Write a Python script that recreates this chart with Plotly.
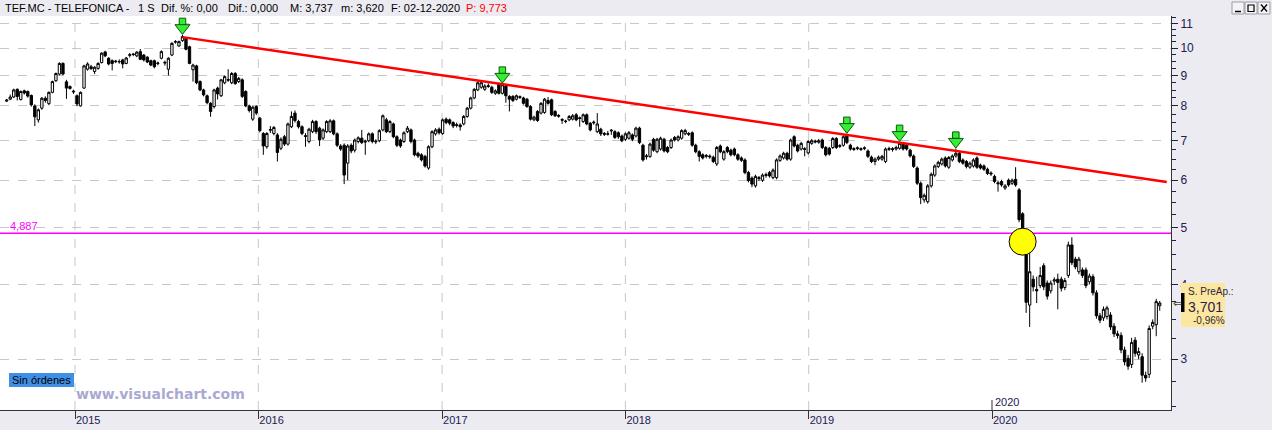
import math
import pandas as pd
import plotly.graph_objects as go

# ---------------- data (weekly candles) ----------------
open_ = [8.15, 8.21, 8.28, 8.53, 8.20, 8.48, 8.46, 8.33, 8.00, 7.58,
         7.93, 8.24, 8.07, 8.43, 8.82, 9.05, 9.43, 8.78, 8.62, 8.47,
         8.32, 8.00, 8.57, 9.22, 9.31, 9.14, 9.25, 9.46, 9.86, 9.62,
         9.53, 9.49, 9.50, 9.56, 9.43, 9.73, 9.78, 9.71, 9.87, 9.74,
         9.66, 9.53, 9.53, 9.42, 9.62, 9.47, 9.22, 9.74, 10.24, 10.09,
         10.30, 10.39, 10.06, 9.20, 9.34, 8.79, 8.51, 8.32, 8.08, 7.98,
         8.57, 8.32, 8.75, 8.86, 8.75, 9.07, 8.79, 8.85, 8.46, 8.00,
         7.60, 7.98, 7.63, 7.19, 6.83, 7.28, 7.19, 7.15, 6.79, 7.10,
         6.90, 7.38, 7.78, 7.53, 7.38, 7.13, 6.97, 7.24, 7.53, 7.34,
         7.06, 7.24, 7.24, 7.55, 7.18, 6.85, 6.87, 6.41, 6.87, 6.74,
         6.97, 7.06, 6.98, 6.99, 7.18, 6.96, 6.99, 7.29, 7.58, 7.24,
         7.46, 7.10, 7.01, 6.97, 7.24, 7.29, 7.01, 6.66, 6.62, 6.58,
         6.29, 6.83, 7.18, 7.31, 7.19, 7.60, 7.58, 7.50, 7.44, 7.43,
         7.46, 7.68, 7.93, 8.25, 8.51, 8.60, 8.53, 8.65, 8.60, 8.40,
         8.71, 8.40, 8.64, 8.30, 8.30, 8.21, 8.29, 8.25, 8.21, 7.98,
         7.58, 7.83, 7.78, 7.80, 8.17, 8.19, 7.83, 7.71, 7.59, 7.53,
         7.58, 7.60, 7.73, 7.64, 7.53, 7.73, 7.48, 7.49, 7.24, 7.31,
         7.19, 7.17, 7.26, 7.24, 7.21, 7.12, 7.03, 7.06, 7.15, 7.12,
         7.34, 6.87, 6.57, 6.58, 7.03, 6.70, 6.77, 7.03, 6.81, 6.81,
         7.08, 7.01, 7.06, 7.18, 7.19, 7.21, 6.87, 6.70, 6.62, 6.58,
         6.59, 6.56, 6.39, 6.85, 6.51, 6.81, 6.74, 6.77, 6.62, 6.54,
         6.49, 6.18, 6.05, 5.87, 6.06, 6.00, 6.11, 6.18, 6.06, 6.06,
         6.48, 6.54, 6.66, 6.51, 7.10, 6.87, 6.77, 6.78, 6.67, 6.92,
         6.98, 6.95, 7.01, 6.81, 6.79, 6.81, 7.05, 6.84, 6.87, 7.12,
         6.87, 6.78, 6.78, 6.78, 6.78, 6.72, 6.56, 6.45, 6.51, 6.51,
         6.45, 6.76, 6.78, 6.77, 6.79, 6.92, 6.87, 6.74, 6.59, 6.29,
         5.93, 5.56, 5.52, 5.87, 6.12, 6.33, 6.39, 6.54, 6.31, 6.49,
         6.59, 6.66, 6.49, 6.45, 6.31, 6.34, 6.54, 6.36, 6.34, 6.26,
         6.17, 6.09, 5.94, 5.97, 5.82, 6.00, 5.93, 6.02, 5.78, 5.27,
         4.60, 3.70, 4.09, 3.93, 3.99, 4.31, 4.03, 3.91, 4.06, 4.09,
         4.09, 3.96, 4.15, 4.67, 4.42, 4.21, 4.24, 4.24, 4.05, 4.13,
         3.88, 3.55, 3.52, 3.54, 3.56, 3.41, 3.31, 3.29, 3.11, 3.01,
         2.94, 3.23, 3.05, 3.03, 2.82, 2.83, 3.41, 3.43, 3.69]
high = [8.22, 8.36, 8.55, 8.56, 8.49, 8.52, 8.49, 8.36, 8.05, 7.92,
        8.28, 8.30, 8.46, 8.82, 9.10, 9.47, 9.47, 8.85, 8.66, 8.52,
        8.36, 8.46, 9.38, 9.47, 9.38, 9.33, 9.47, 9.85, 9.90, 9.66,
        9.58, 9.56, 9.58, 9.60, 9.67, 9.82, 9.82, 9.89, 9.97, 9.78,
        9.70, 9.57, 9.57, 9.50, 9.92, 9.53, 9.66, 10.24, 10.32, 10.30,
        10.53, 10.45, 10.10, 9.42, 9.38, 8.83, 8.55, 8.36, 8.12, 8.55,
        8.62, 8.88, 9.00, 9.22, 9.12, 9.12, 8.95, 8.90, 8.50, 8.04,
        8.00, 8.02, 7.67, 7.23, 7.23, 7.40, 7.40, 7.20, 7.08, 7.15,
        7.50, 7.83, 7.86, 7.58, 7.42, 7.20, 7.35, 7.58, 7.57, 7.38,
        7.33, 7.57, 7.60, 7.59, 7.22, 6.90, 6.92, 6.90, 6.92, 7.05,
        7.11, 7.29, 7.02, 7.22, 7.22, 7.03, 7.31, 7.74, 7.64, 7.57,
        7.50, 7.14, 7.05, 7.25, 7.40, 7.33, 7.05, 6.70, 6.66, 6.62,
        6.87, 7.28, 7.34, 7.36, 7.62, 7.65, 7.62, 7.54, 7.50, 7.48,
        7.72, 7.97, 8.29, 8.57, 8.79, 8.80, 8.70, 8.73, 8.65, 8.53,
        8.75, 8.72, 8.70, 8.34, 8.34, 8.36, 8.33, 8.29, 8.25, 8.02,
        7.70, 7.87, 8.12, 8.25, 8.28, 8.23, 7.87, 7.75, 7.63, 7.58,
        7.72, 7.75, 7.78, 7.68, 7.77, 7.77, 7.52, 7.56, 7.78, 7.35,
        7.23, 7.26, 7.31, 7.28, 7.25, 7.16, 7.22, 7.26, 7.19, 7.38,
        7.38, 6.91, 6.64, 6.94, 7.07, 7.07, 7.10, 7.07, 6.85, 7.05,
        7.12, 7.14, 7.31, 7.32, 7.23, 7.25, 6.91, 6.74, 6.66, 6.64,
        6.63, 6.60, 6.85, 6.89, 6.74, 6.85, 6.78, 6.81, 6.66, 6.58,
        6.53, 6.22, 6.09, 6.13, 6.10, 6.16, 6.18, 6.22, 6.28, 6.53,
        6.63, 6.70, 6.70, 7.05, 7.14, 6.91, 6.96, 6.82, 7.01, 7.04,
        7.02, 7.04, 7.05, 6.85, 6.83, 7.09, 7.09, 6.90, 7.14, 7.18,
        6.91, 6.82, 6.84, 6.81, 6.84, 6.76, 6.60, 6.55, 6.60, 6.62,
        6.81, 6.83, 6.82, 6.86, 6.96, 6.96, 6.91, 6.78, 6.63, 6.33,
        5.97, 5.70, 5.91, 6.18, 6.38, 6.47, 6.55, 6.58, 6.59, 6.63,
        6.78, 6.70, 6.53, 6.49, 6.45, 6.53, 6.58, 6.40, 6.38, 6.30,
        6.21, 6.13, 5.98, 6.01, 5.91, 6.04, 6.04, 6.31, 5.82, 5.30,
        4.75, 4.58, 4.15, 4.13, 4.29, 4.35, 4.07, 4.07, 4.12, 4.18,
        4.13, 4.11, 4.73, 4.81, 4.46, 4.46, 4.28, 4.28, 4.18, 4.17,
        3.92, 3.59, 3.68, 3.69, 3.60, 3.45, 3.35, 3.33, 3.15, 3.05,
        3.26, 3.27, 3.14, 3.07, 2.86, 3.42, 3.50, 3.79, 3.76]
low = [8.12, 8.18, 8.25, 8.17, 8.17, 8.36, 8.26, 7.98, 7.40, 7.50,
       7.88, 8.10, 8.02, 8.40, 8.78, 9.00, 9.00, 8.22, 8.52, 8.38,
       7.99, 7.98, 8.55, 9.17, 9.20, 9.05, 9.20, 9.43, 9.66, 9.36,
       9.18, 9.44, 9.42, 9.25, 9.40, 9.65, 9.70, 9.66, 9.55, 9.50,
       9.44, 9.33, 9.25, 9.36, 9.58, 9.35, 9.00, 9.70, 10.18, 10.05,
       10.25, 9.92, 9.40, 8.79, 8.70, 8.47, 8.30, 8.05, 7.67, 7.92,
       8.20, 8.28, 8.70, 8.78, 8.70, 8.68, 8.74, 8.25, 7.96, 7.80,
       7.55, 7.72, 7.22, 6.62, 6.78, 7.20, 7.14, 6.45, 6.74, 6.85,
       6.86, 7.34, 7.50, 7.33, 7.14, 6.83, 6.92, 7.20, 7.18, 6.85,
       7.00, 7.20, 7.20, 7.14, 6.82, 6.72, 5.91, 6.00, 6.66, 6.68,
       6.92, 6.90, 6.62, 6.95, 6.92, 6.90, 6.95, 7.25, 7.20, 7.20,
       7.06, 6.82, 6.80, 6.93, 7.20, 6.92, 6.58, 6.54, 6.45, 6.30,
       6.25, 6.79, 7.13, 7.16, 7.15, 7.45, 7.42, 7.34, 7.36, 7.27,
       7.42, 7.64, 7.89, 8.21, 8.47, 8.55, 8.48, 8.58, 8.38, 8.35,
       8.36, 8.36, 8.10, 7.83, 8.12, 8.17, 8.22, 8.04, 7.94, 7.56,
       7.54, 7.52, 7.74, 7.76, 8.04, 7.69, 7.66, 7.64, 7.46, 7.48,
       7.54, 7.56, 7.54, 7.38, 7.49, 7.42, 7.25, 7.44, 7.20, 7.12,
       7.12, 7.13, 7.15, 7.04, 7.04, 6.95, 6.98, 7.02, 6.98, 7.08,
       6.90, 6.45, 6.50, 6.54, 6.70, 6.66, 6.73, 6.68, 6.66, 6.77,
       6.97, 6.97, 7.02, 7.14, 7.12, 6.83, 6.66, 6.45, 6.50, 6.53,
       6.52, 6.41, 6.34, 6.66, 6.47, 6.66, 6.58, 6.58, 6.47, 6.44,
       6.14, 5.95, 5.84, 5.83, 5.98, 5.96, 6.06, 6.06, 6.02, 6.02,
       6.44, 6.50, 6.47, 6.47, 6.81, 6.68, 6.73, 6.58, 6.63, 6.88,
       6.92, 6.91, 6.77, 6.58, 6.60, 6.77, 6.77, 6.80, 6.83, 6.90,
       6.73, 6.72, 6.74, 6.72, 6.74, 6.54, 6.41, 6.36, 6.47, 6.47,
       6.41, 6.72, 6.70, 6.73, 6.75, 6.73, 6.73, 6.55, 6.29, 5.89,
       5.47, 5.50, 5.48, 5.83, 6.08, 6.29, 6.35, 6.30, 6.27, 6.45,
       6.55, 6.41, 6.37, 6.28, 6.27, 6.30, 6.27, 6.25, 6.22, 6.12,
       6.10, 5.93, 5.74, 5.85, 5.78, 5.85, 5.89, 5.85, 5.10, 4.80,
       3.59, 3.40, 3.90, 3.73, 3.95, 3.92, 3.78, 3.87, 4.00, 3.64,
       3.90, 3.92, 4.11, 4.32, 4.25, 4.17, 4.11, 3.95, 4.01, 3.84,
       3.51, 3.45, 3.48, 3.50, 3.36, 3.27, 3.25, 3.07, 2.93, 2.88,
       2.90, 3.03, 3.00, 2.74, 2.75, 2.79, 3.37, 3.28, 3.62]
close = [8.18, 8.28, 8.51, 8.30, 8.46, 8.41, 8.31, 8.03, 7.67, 7.88,
         8.24, 8.17, 8.43, 8.79, 9.07, 9.43, 9.05, 8.57, 8.56, 8.45,
         8.06, 8.43, 9.34, 9.41, 9.24, 9.29, 9.43, 9.81, 9.71, 9.41,
         9.43, 9.51, 9.49, 9.41, 9.63, 9.75, 9.76, 9.85, 9.58, 9.56,
         9.48, 9.37, 9.31, 9.44, 9.87, 9.45, 9.62, 10.19, 10.26, 10.26,
         10.46, 9.96, 9.43, 9.37, 8.75, 8.51, 8.35, 8.10, 7.83, 8.51,
         8.38, 8.85, 8.96, 8.84, 9.07, 8.72, 8.90, 8.30, 8.00, 7.86,
         7.96, 7.78, 7.27, 6.85, 7.19, 7.30, 7.36, 6.68, 7.03, 6.90,
         7.46, 7.68, 7.56, 7.38, 7.19, 7.11, 7.31, 7.53, 7.24, 7.01,
         7.29, 7.53, 7.55, 7.18, 6.87, 6.77, 6.12, 6.85, 6.72, 7.01,
         7.07, 6.94, 6.96, 7.18, 6.97, 6.98, 7.27, 7.70, 7.24, 7.53,
         7.10, 6.87, 6.85, 7.21, 7.34, 6.97, 6.62, 6.59, 6.49, 6.34,
         6.83, 7.24, 7.29, 7.21, 7.58, 7.50, 7.48, 7.40, 7.42, 7.38,
         7.68, 7.93, 8.25, 8.53, 8.75, 8.75, 8.64, 8.63, 8.43, 8.48,
         8.40, 8.68, 8.32, 8.21, 8.17, 8.32, 8.27, 8.08, 7.98, 7.60,
         7.66, 7.56, 8.08, 8.21, 8.08, 7.73, 7.70, 7.69, 7.57, 7.54,
         7.68, 7.70, 7.58, 7.62, 7.73, 7.46, 7.29, 7.51, 7.46, 7.18,
         7.17, 7.18, 7.28, 7.08, 7.10, 6.99, 7.18, 7.21, 7.03, 7.34,
         6.94, 6.49, 6.59, 6.90, 6.74, 7.03, 7.06, 6.72, 6.70, 7.01,
         7.01, 7.10, 7.27, 7.27, 7.17, 6.87, 6.70, 6.58, 6.54, 6.60,
         6.57, 6.45, 6.81, 6.70, 6.70, 6.70, 6.62, 6.62, 6.51, 6.48,
         6.18, 5.99, 5.91, 6.09, 6.04, 6.12, 6.13, 6.10, 6.24, 6.49,
         6.59, 6.66, 6.51, 7.01, 6.85, 6.72, 6.92, 6.76, 6.97, 6.99,
         6.96, 6.99, 6.81, 6.62, 6.64, 7.05, 6.81, 6.86, 7.10, 6.94,
         6.77, 6.76, 6.80, 6.76, 6.80, 6.58, 6.45, 6.51, 6.56, 6.58,
         6.77, 6.78, 6.76, 6.81, 6.92, 6.77, 6.77, 6.59, 6.33, 5.93,
         5.61, 5.66, 5.87, 6.14, 6.34, 6.43, 6.51, 6.34, 6.55, 6.59,
         6.66, 6.45, 6.41, 6.33, 6.41, 6.49, 6.31, 6.29, 6.26, 6.16,
         6.15, 5.97, 5.92, 5.89, 5.87, 5.89, 6.00, 5.89, 5.15, 4.89,
         3.74, 4.21, 3.97, 3.91, 4.15, 3.97, 3.83, 4.03, 4.08, 4.04,
         3.95, 4.07, 4.67, 4.36, 4.29, 4.42, 4.15, 3.99, 4.14, 3.88,
         3.55, 3.49, 3.64, 3.66, 3.40, 3.31, 3.29, 3.11, 2.97, 2.92,
         3.20, 3.07, 3.09, 2.82, 2.79, 3.38, 3.46, 3.75, 3.73]

last_date = "2020-11-30"
year_ticks = ["2015-01-01", "2016-01-01", "2017-01-01", "2018-01-01", "2019-01-01", "2020-01-01"]
year_labels = ["2015", "2016", "2017", "2018", "2019", "2020"]
y_ticks = [3, 4, 5, 6, 7, 8, 9, 10, 11]
y_tick_labels = ["3", "4", "5", "6", "7", "8", "9", "10", "11"]
trend_dates = ["2015-08-03", "2020-12-14"]
trend_values = [10.44, 5.96]
level_value = 4.887
level_label = "4,887"
signal_idx = [50, 141, 239, 254, 270]
circle_idx = 289
circle_value = 4.73
header_parts = ["TEF.MC - TELEFONICA -", "1 S", "Dif. %: 0,00", "Dif.: 0,000",
                "M: 3,737", "m: 3,620", "F: 02-12-2020"]
header_price = "P: 9,773"
last_price = "3,701"
last_change = "-0,96%"

# ---------------- geometry / styling ----------------
W, H = 1272, 430
PL, PR, PT, PB = 0, 1171, 16, 410          # plot area in pixels
y_bot, y_top = 2.465, 11.33
x_range = ["2014-08-04 15:43", "2020-12-22 10:34"]
k = math.log(y_top / y_bot) / (PB - PT)    # ln-units per pixel


def px(x):
    return (x - PL) / (PR - PL)


def py(y):
    return (PB - y) / (PB - PT)


dates = pd.date_range(end=last_date, periods=len(close), freq="7D")
minor_vals = [v / 4 for v in range(10, 46) if v % 4]

AXC = "#1c2050"
GRID = "#c6c6cc"
FONT = "Liberation Sans"

fig = go.Figure()

# horizontal level
fig.add_trace(go.Scatter(x=x_range, y=[level_value, level_value], mode="lines",
                         line=dict(color="#ff00ff", width=1.5), hoverinfo="skip"))

# yellow circle
fig.add_trace(go.Scatter(x=[dates[circle_idx]], y=[circle_value], mode="markers",
                         marker=dict(symbol="circle", size=27, color="#ffff00",
                                     line=dict(color="#000000", width=1)),
                         hoverinfo="skip"))

# candles
fig.add_trace(go.Candlestick(
    x=dates, open=open_, high=high, low=low, close=close,
    increasing=dict(line=dict(color="#000000", width=1), fillcolor="#ffffff"),
    decreasing=dict(line=dict(color="#000000", width=1), fillcolor="#000000"),
    whiskerwidth=0, hoverinfo="skip"))

# trend line
fig.add_trace(go.Scatter(x=trend_dates, y=trend_values, mode="lines",
                         line=dict(color="#ff0000", width=2.5), hoverinfo="skip"))

# green signal arrows
sig_x = [dates[i] for i in signal_idx]
tips = [high[i] * math.exp(1 * k) for i in signal_idx]
fig.add_trace(go.Scatter(x=sig_x, y=[t * math.exp(12.5 * k) for t in tips], mode="markers",
                         marker=dict(symbol="square", size=6.5, color="#33ee33",
                                     line=dict(color="#0a5a0a", width=1)),
                         hoverinfo="skip"))
fig.add_trace(go.Scatter(x=sig_x, y=[t * math.exp(6 * k) for t in tips], mode="markers",
                         marker=dict(symbol="triangle-down", size=13, color="#33ee33",
                                     line=dict(color="#0a5a0a", width=1)),
                         hoverinfo="skip"))

shapes = []
# vertical dashed year gridlines (none at 2020)
for d in year_ticks[:-1]:
    shapes.append(dict(type="line", xref="x", yref="paper", x0=d, x1=d, y0=0, y1=1,
                       line=dict(color=GRID, width=1, dash="dash"), layer="below"))
# 2020 marker above the axis
shapes.append(dict(type="line", xref="x", yref="paper", x0=year_ticks[-1], x1=year_ticks[-1],
                   y0=py(410), y1=py(400), line=dict(color="#333333", width=1)))
# "Sin órdenes" box
shapes.append(dict(type="rect", xref="paper", yref="paper", x0=px(9), x1=px(74),
                   y0=py(387), y1=py(373), fillcolor="#3f8fe6", line=dict(width=0)))
# price tag
shapes.append(dict(type="rect", xref="paper", yref="paper", x0=px(1181), x1=px(1225),
                   y0=py(327), y1=py(283), fillcolor="#fde6a0", line=dict(width=0), layer="above"))
shapes.append(dict(type="rect", xref="paper", yref="paper", x0=px(1181), x1=px(1184.5),
                   y0=py(312), y1=py(293), fillcolor="#000000", line=dict(width=0), layer="above"))
# window buttons
for x0 in (1232, 1245, 1258):
    shapes.append(dict(type="rect", xref="paper", yref="paper", x0=px(x0), x1=px(x0 + 12),
                       y0=py(14), y1=py(2), fillcolor="#f4f4f6",
                       line=dict(color="#9a9aa6", width=1), layer="above"))
shapes.append(dict(type="line", xref="paper", yref="paper", x0=px(1235), x1=px(1241),
                   y0=py(11.5), y1=py(11.5), line=dict(color="#000000", width=1.5), layer="above"))
shapes.append(dict(type="rect", xref="paper", yref="paper", x0=px(1248), x1=px(1254),
                   y0=py(11.5), y1=py(5), line=dict(color="#000000", width=1.2), layer="above"))
shapes.append(dict(type="line", xref="paper", yref="paper", x0=px(1261), x1=px(1267),
                   y0=py(11.5), y1=py(4.5), line=dict(color="#000000", width=1.3), layer="above"))
shapes.append(dict(type="line", xref="paper", yref="paper", x0=px(1261), x1=px(1267),
                   y0=py(4.5), y1=py(11.5), line=dict(color="#000000", width=1.3), layer="above"))

ann = []
# header
header_x = [3, 136, 159, 226, 288, 339, 389]
for t, x in zip(header_parts, header_x):
    ann.append(dict(text=t, xref="paper", yref="paper", x=px(x), y=py(8.5), xanchor="left",
                    yanchor="middle", showarrow=False, font=dict(family=FONT, size=11, color="#000000")))
ann.append(dict(text=header_price, xref="paper", yref="paper", x=px(464), y=py(8.5), xanchor="left",
                yanchor="middle", showarrow=False, font=dict(family=FONT, size=11, color="#ff0000")))
# level label
ann.append(dict(text=level_label, xref="paper", yref="paper", x=px(8), y=py(226), xanchor="left",
                yanchor="middle", showarrow=False, font=dict(family=FONT, size=11, color="#ff00ff")))
# 2020 marker label
ann.append(dict(text=year_labels[-1], xref="x", yref="paper", x=year_ticks[-1], y=py(401.5),
                xanchor="left", yanchor="middle", xshift=1, showarrow=False,
                font=dict(family=FONT, size=11, color=AXC)))
# Sin órdenes
ann.append(dict(text="Sin órdenes", xref="paper", yref="paper", x=px(41.5), y=py(380),
                xanchor="center", yanchor="middle", showarrow=False,
                font=dict(family=FONT, size=11, color="#000000")))
# watermark
ann.append(dict(text="<b>www.visualchart.com</b>", xref="paper", yref="paper", x=px(74), y=py(394),
                xanchor="left", yanchor="middle", showarrow=False,
                font=dict(family="DejaVu Sans", size=14, color="#a9a9d2")))
# price tag texts
ann.append(dict(text="S. PreAp.:", xref="paper", yref="paper", x=px(1186), y=py(291),
                xanchor="left", yanchor="middle", showarrow=False,
                font=dict(family=FONT, size=10, color="#2a2a3a")))
ann.append(dict(text=last_price, xref="paper", yref="paper", x=px(1185.5), y=py(306.5),
                xanchor="left", yanchor="middle", showarrow=False,
                font=dict(family=FONT, size=14, color="#2b1d4a")))
ann.append(dict(text=last_change, xref="paper", yref="paper", x=px(1191), y=py(320.5),
                xanchor="left", yanchor="middle", showarrow=False,
                font=dict(family=FONT, size=10, color="#2a2a3a")))
ann.append(dict(text="⇐", xref="paper", yref="paper", x=px(1177), y=py(303.5),
                xanchor="center", yanchor="middle", showarrow=False,
                font=dict(family="DejaVu Sans", size=11, color="#444444")))

fig.update_layout(
    width=W, height=H, autosize=False,
    margin=dict(l=PL, r=W - PR, t=PT, b=H - PB, pad=0),
    paper_bgcolor="#ebebf1", plot_bgcolor="#ffffff",
    showlegend=False, shapes=shapes, annotations=ann,
    boxgap=0.34, boxgroupgap=0.0,
    xaxis=dict(type="date", range=x_range, rangeslider=dict(visible=False),
               showgrid=False, zeroline=False, showline=True, linecolor="#333333", linewidth=1,
               tickmode="array", tickvals=year_ticks, ticktext=year_labels,
               ticks="outside", ticklen=8, tickcolor="#333333", tickwidth=1,
               ticklabelposition="outside right",
               tickfont=dict(family=FONT, size=11, color=AXC)),
    yaxis=dict(type="log", side="right", range=[math.log10(y_bot), math.log10(y_top)],
               tickmode="array", tickvals=y_ticks, ticktext=y_tick_labels,
               ticks="outside", ticklen=6, tickcolor=AXC, tickwidth=1,
               showline=True, linecolor="#333333", linewidth=1,
               showgrid=True, gridcolor=GRID, gridwidth=1, griddash="dash",
               zeroline=False,
               minor=dict(tickmode="array", tickvals=minor_vals, ticks="outside", ticklen=4,
                          tickcolor=AXC, showgrid=False),
               tickfont=dict(family=FONT, size=12, color=AXC)),
)

fig.write_html("out.html")
